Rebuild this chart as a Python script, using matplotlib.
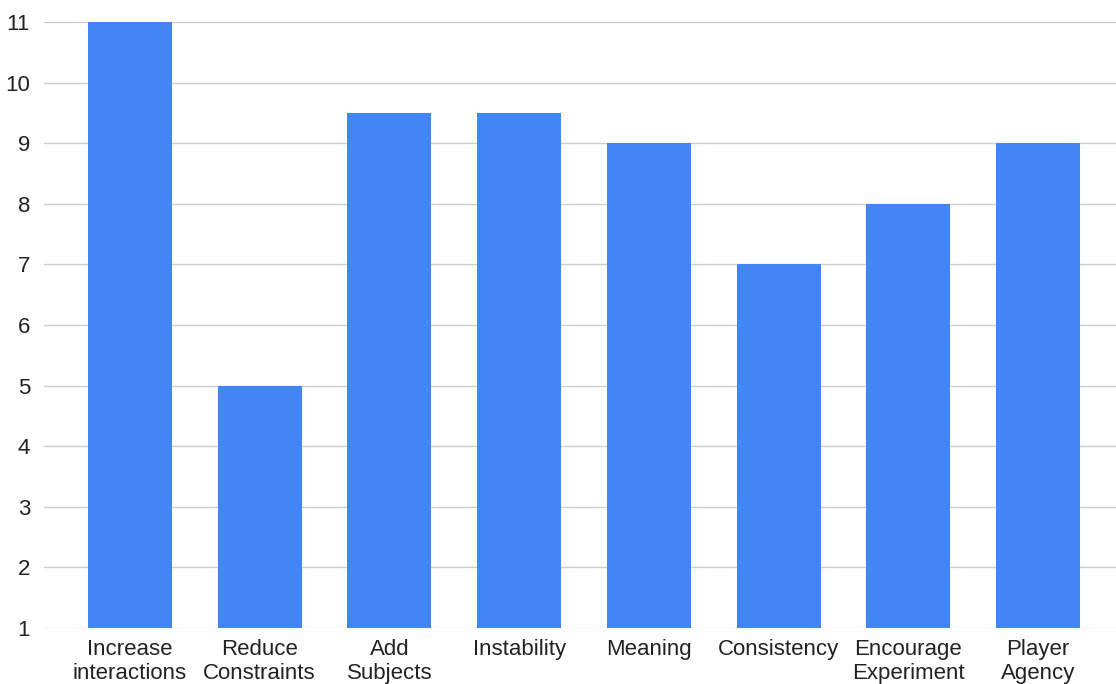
import matplotlib.pyplot as plt

categories = ["Increase\ninteractions", "Reduce\nConstraints", "Add\nSubjects", "Instability",
              "Meaning", "Consistency", "Encourage\nExperiment", "Player\nAgency"]
values = [11, 5, 9.5, 9.5, 9, 7, 8, 9]
y_ticks = list(range(1, 12))

plt.rcParams['font.family'] = ['Liberation Sans', 'DejaVu Sans']

fig = plt.figure(figsize=(11.16, 6.84), dpi=100)
ax = fig.add_axes([44 / 1116, 56 / 684, 1072 / 1116, 606 / 684])

x = list(range(len(categories)))
ax.bar(x, [v - 1 for v in values], bottom=1, width=0.646, color="#4285F4", zorder=3)

ax.set_xlim(-0.662, 7.6)
ax.set_ylim(1, 11)
ax.set_yticks(y_ticks)
ax.set_xticks(x)
ax.set_xticklabels(categories, linespacing=1.15)
ax.grid(True, axis='y', color="#cccccc", linewidth=1, zorder=0)
ax.tick_params(axis='both', length=0, labelsize=16, labelcolor="#222222")
ax.tick_params(axis='y', pad=10)
ax.tick_params(axis='x', pad=8)
for spine in ax.spines.values():
    spine.set_visible(False)

fig.savefig("out.png", dpi=100)
